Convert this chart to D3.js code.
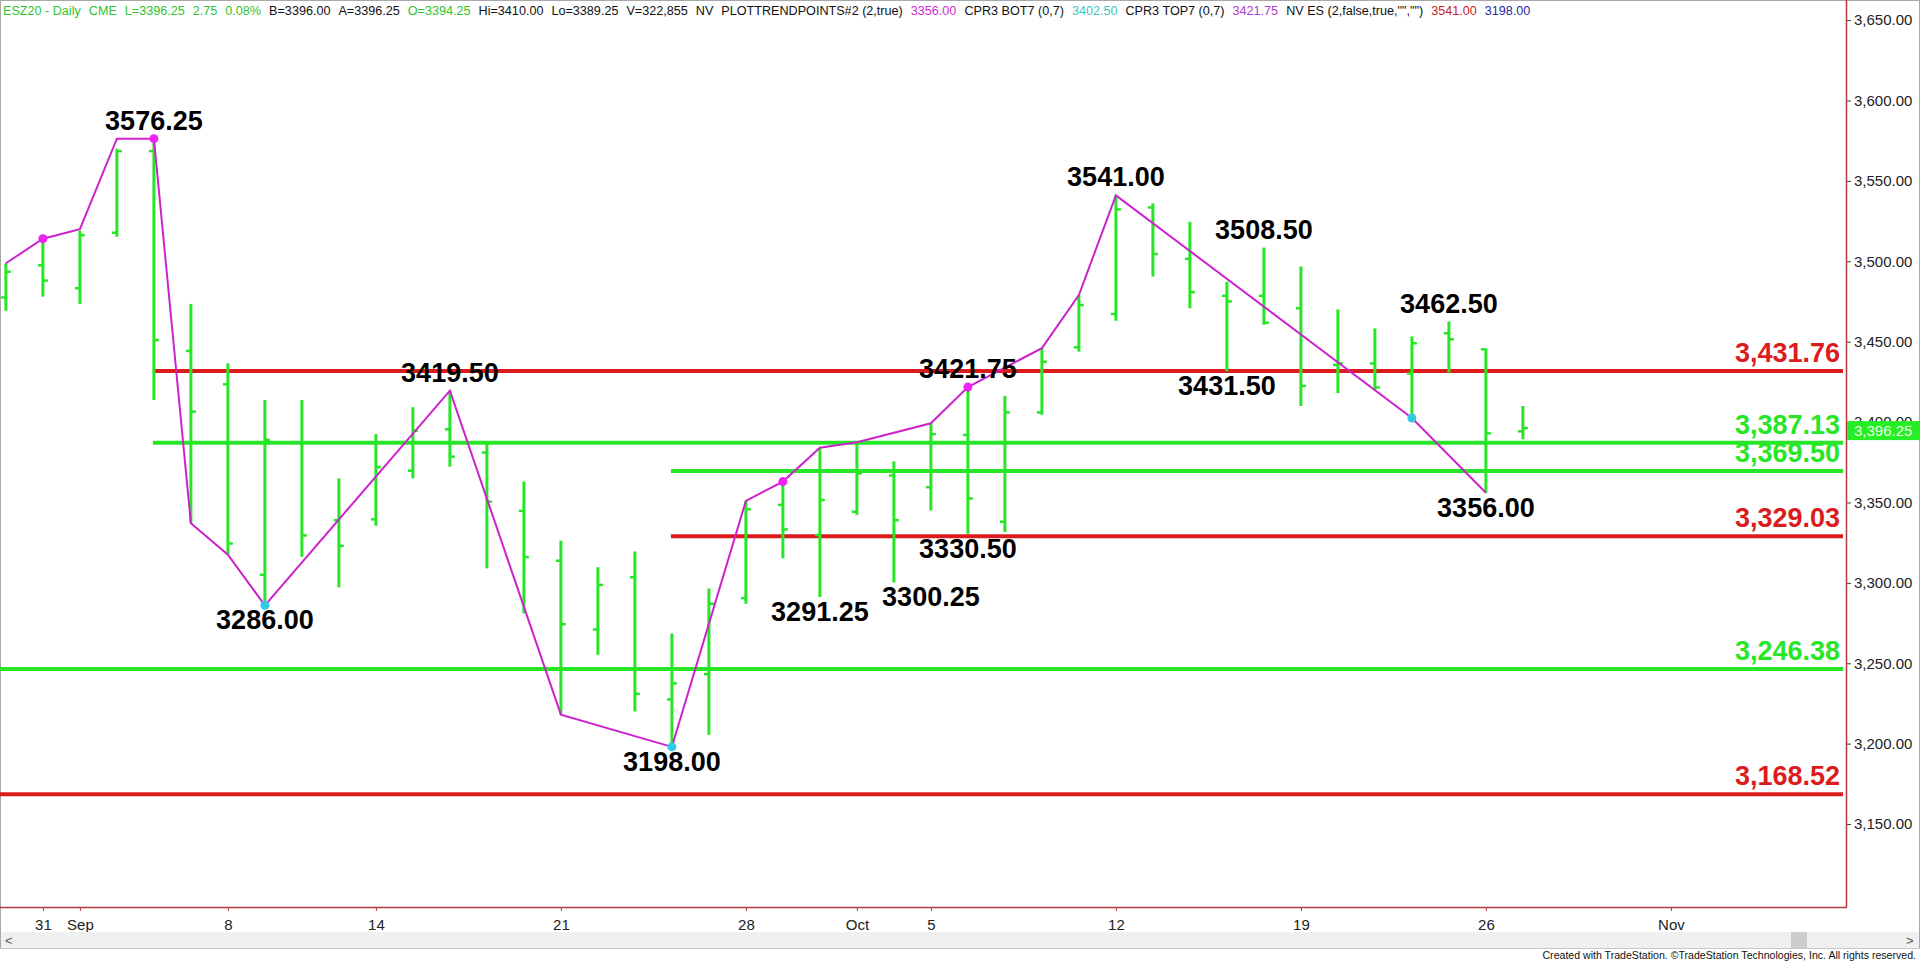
<!DOCTYPE html>
<html><head><meta charset="utf-8">
<script src="https://cdn.jsdelivr.net/npm/d3@7"></script>
<style>
html,body{margin:0;padding:0;background:#fff;overflow:hidden}
svg{display:block;font-family:"Liberation Sans",Arial,sans-serif}
</style></head><body>
<svg id="chart" width="1920" height="963"></svg>
<script>
// ---------------- DATA ----------------
const tradingDays = ["Aug 28","Aug 31","Sep 1","Sep 2","Sep 3","Sep 4","Sep 8","Sep 9","Sep 10","Sep 11",
  "Sep 14","Sep 15","Sep 16","Sep 17","Sep 18","Sep 21","Sep 22","Sep 23","Sep 24","Sep 25",
  "Sep 28","Sep 29","Sep 30","Oct 1","Oct 2","Oct 5","Oct 6","Oct 7","Oct 8","Oct 9",
  "Oct 12","Oct 13","Oct 14","Oct 15","Oct 16","Oct 19","Oct 20","Oct 21","Oct 22","Oct 23",
  "Oct 26","Oct 27","Oct 28","Oct 29","Oct 30","Nov 2","Nov 3","Nov 4","Nov 5","Nov 6"];
const opens  = [3477.5,3497.5,3483.25,3517.75,3568.5,3444.25,3423.5,3305,3387.25,3339,
  3339.5,3369.75,3395.5,3381,3344.75,3313.75,3271,3303.5,3227.5,3243.25,
  3290.5,3348.5,3329.75,3344.25,3366.75,3359.5,3392,3338,3406,3446.5,
  3467.25,3533.5,3501.5,3478.5,3478.5,3470.75,3435.5,3436.5,3430.25,3455.25,
  3445.25,3394.25];
const highs  = [3498.75,3513,3519,3570,3576.25,3473.5,3436.5,3413.75,3413.75,3365,
  3392.5,3409.25,3419.5,3387.25,3363,3326.25,3309.75,3319.5,3268.5,3296.5,
  3351,3363,3383.75,3387.25,3375.5,3399.25,3421.75,3416.25,3446,3479,
  3541,3536,3524.5,3487.25,3508.5,3496.75,3470,3458.25,3453.25,3462.5,
  3445.75,3410];
const lows   = [3469.25,3478,3473.5,3515.25,3413.75,3337,3317.5,3286,3316.25,3297.25,
  3335.5,3365,3372.25,3309,3281,3218,3255.25,3220,3198,3205.5,
  3287,3315.25,3291.25,3342.25,3300.25,3345,3330.5,3331.5,3404.5,3443.75,
  3463,3490.5,3470.75,3431.5,3460.5,3410,3418,3420,3402.5,3430.75,
  3356,3389.25];
const closes = [3493.5,3488,3516.25,3568.5,3451,3406.5,3324.5,3389,3329.5,3323,
  3372,3394.5,3378.5,3350.5,3316,3274.25,3298.75,3231,3237.5,3287,
  3345.75,3333.25,3351.5,3368,3339,3392.5,3352.5,3406,3437.5,3472.75,
  3532.25,3504.5,3480.75,3475,3461.75,3422.5,3436.5,3421.5,3449,3451.5,
  3393,3396.25];

// zig-zag trend line
const trendDates  = ["Aug 28","Aug 31","Sep 1","Sep 2","Sep 3","Sep 4","Sep 8","Sep 9","Sep 16","Sep 21",
  "Sep 24","Sep 28","Sep 29","Sep 30","Oct 1","Oct 5","Oct 6","Oct 8","Oct 9","Oct 12","Oct 22","Oct 26"];
const trendValues = [3498.75,3514,3520,3576.25,3576.25,3337,3317.5,3286,3419.5,3218,
  3198,3351,3363,3384,3387.5,3399.25,3421.75,3446,3479,3541,3402.5,3356];

const topPivotDates  = ["Aug 31","Sep 3","Sep 29","Oct 6"];
const topPivotValues = [3514,3576.25,3363,3421.75];
const botPivotDates  = ["Sep 9","Sep 24","Oct 22"];
const botPivotValues = [3286,3198,3402.5];

// swing labels
const labelDates  = ["Sep 3","Sep 9","Sep 16","Sep 24","Sep 30","Oct 5","Oct 6","Oct 6","Oct 12","Oct 15","Oct 16","Oct 23","Oct 26"];
const labelValues = [3576.25,3286,3419.5,3198,3291.25,3300.25,3421.75,3330.5,3541,3431.5,3508.5,3462.5,3356];
const labelSides  = ["top","bottom","top","bottom","bottom","bottom","top","bottom","top","bottom","top","top","bottom"];

// horizontal pivot levels
const levelValues = [3431.76,3387.13,3369.50,3329.03,3246.38,3168.52];
const levelKinds  = ["res","sup","sup","res","sup","res"];
const levelStarts = ["Sep 3","Sep 3","Sep 24","Sep 24",null,null];

// axis ticks
const yTicks = [3150,3200,3250,3300,3350,3400,3450,3500,3550,3600,3650];
const xTickDates  = ["Aug 31","Sep 1","Sep 8","Sep 14","Sep 21","Sep 28","Oct 1","Oct 5","Oct 12","Oct 19","Oct 26","Nov 2"];
const xTickLabels = ["31","Sep","8","14","21","28","Oct","5","12","19","26","Nov"];

const lastPrice = 3396.25;

// header
const headerTexts = ["ESZ20 - Daily","CME","L=3396.25","2.75","0.08%","B=3396.00","A=3396.25","O=3394.25",
  "Hi=3410.00","Lo=3389.25","V=322,855","NV","PLOTTRENDPOINTS#2 (2,true)","3356.00","CPR3 BOT7 (0,7)",
  "3402.50","CPR3 TOP7 (0,7)","3421.75","NV ES (2,false,true,\"\",\"\")","3541.00","3198.00"];
const headerKinds = ["g","g","g","g","g","k","k","g","k","k","k","k","k","m","k","c","k","p","k","r","b"];
const footerText = "Created with TradeStation. ©TradeStation Technologies, Inc. All rights reserved.";

// ---------------- LAYOUT / STYLE ----------------
const GREEN="#27e627", RED="#dc1c1c", MAG="#cc22cc", CYAN="#33c8e8", AXIS="#b33a3a";
const headerColors = {g:"#2fc42f",k:"#111",m:"#d62ad6",c:"#3cc6c6",p:"#b03cd0",r:"#c81e1e",b:"#1e2aa0"};

const svg = d3.select("#chart");
const plotRight = 1846, plotBottom = 907;

const x = d3.scalePoint().domain(tradingDays).range([5.9, 5.9 + 37*(tradingDays.length-1)]);
const y = d3.scaleLinear().domain([3098.4, 3662.5]).range([plotBottom, 0]);

svg.append("defs").append("clipPath").attr("id","clip")
  .append("rect").attr("x",0).attr("y",0).attr("width",plotRight-3).attr("height",plotBottom);

// frame
svg.append("rect").attr("x",0.5).attr("y",0.5).attr("width",1919).attr("height",948)
  .attr("fill","none").attr("stroke","#a8a8a8");

const g = svg.append("g").attr("clip-path","url(#clip)");

// level lines
levelValues.forEach((v,i)=>{
  const x0 = levelStarts[i] ? x(levelStarts[i]) - 1 : 0;
  g.append("line").attr("x1",x0).attr("x2",plotRight-3)
    .attr("y1",y(v)).attr("y2",y(v))
    .attr("stroke", levelKinds[i]==="res"?RED:GREEN).attr("stroke-width",4);
});

// OHLC bars
const idx = d3.range(opens.length);
const bars = g.append("g").selectAll("g").data(idx).join("g");
bars.append("line")
  .attr("x1",i=>x(tradingDays[i])).attr("x2",i=>x(tradingDays[i]))
  .attr("y1",i=>y(highs[i])).attr("y2",i=>y(lows[i]))
  .attr("stroke",GREEN).attr("stroke-width",3);
bars.append("line")
  .attr("x1",i=>x(tradingDays[i])-5).attr("x2",i=>x(tradingDays[i]))
  .attr("y1",i=>y(opens[i])).attr("y2",i=>y(opens[i]))
  .attr("stroke",GREEN).attr("stroke-width",2.5);
bars.append("line")
  .attr("x1",i=>x(tradingDays[i])).attr("x2",i=>x(tradingDays[i])+5)
  .attr("y1",i=>y(closes[i])).attr("y2",i=>y(closes[i]))
  .attr("stroke",GREEN).attr("stroke-width",2.5);

// trend line
const line = d3.line().x(d=>x(d[0])).y(d=>y(d[1]));
g.append("path").datum(trendDates.map((d,i)=>[d,trendValues[i]]))
  .attr("d",line).attr("fill","none").attr("stroke",MAG).attr("stroke-width",2);

g.selectAll("circle.top").data(topPivotDates).join("circle")
  .attr("cx",d=>x(d)).attr("cy",(d,i)=>y(topPivotValues[i])).attr("r",4.5).attr("fill","#ee22ee");
g.selectAll("circle.bot").data(botPivotDates).join("circle")
  .attr("cx",d=>x(d)).attr("cy",(d,i)=>y(botPivotValues[i])).attr("r",4.5).attr("fill",CYAN);

// swing labels
svg.append("g").selectAll("text").data(labelDates).join("text")
  .attr("x",d=>x(d)).attr("y",(d,i)=> labelSides[i]==="top" ? y(labelValues[i]) - 9 : y(labelValues[i]) + 24)
  .attr("text-anchor","middle").attr("font-weight","bold").attr("font-size",27).attr("fill","#000")
  .text((d,i)=>d3.format(".2f")(labelValues[i]));

// level labels
svg.append("g").selectAll("text").data(levelValues).join("text")
  .attr("x",1840).attr("y",d=>y(d)-9).attr("text-anchor","end")
  .attr("font-weight","bold").attr("font-size",27)
  .attr("fill",(d,i)=> levelKinds[i]==="res"?RED:GREEN)
  .text(d=>d3.format(",.2f")(d));

// right axis
const yAxis = svg.append("g").attr("transform",`translate(${plotRight},0)`)
  .call(d3.axisRight(y).tickValues(yTicks).tickFormat(d3.format(",.2f")).tickSize(5).tickPadding(3));
yAxis.select(".domain").remove();
yAxis.selectAll(".tick line").attr("stroke","#444");
yAxis.selectAll(".tick text").attr("font-size",15).attr("fill","#222").attr("font-family","Liberation Sans, Arial, sans-serif");
svg.append("line").attr("x1",plotRight+0.5).attr("x2",plotRight+0.5).attr("y1",0).attr("y2",plotBottom)
  .attr("stroke",AXIS).attr("stroke-width",1.5);

// last price marker
svg.append("rect").attr("x",plotRight+1).attr("y",y(lastPrice)-7).attr("width",73).attr("height",19).attr("fill","#25ee25");
svg.append("text").attr("x",plotRight+8).attr("y",y(lastPrice)+8).attr("font-size",15).attr("fill","#eaffea")
  .text(d3.format(",.2f")(lastPrice));

// bottom axis
const xAxis = svg.append("g").attr("transform",`translate(0,${plotBottom})`)
  .call(d3.axisBottom(x).tickValues(xTickDates).tickFormat((d,i)=>xTickLabels[i]).tickSize(4).tickPadding(8));
xAxis.select(".domain").remove();
xAxis.selectAll(".tick line").attr("stroke",AXIS);
xAxis.selectAll(".tick text").attr("font-size",15).attr("fill","#222").attr("font-family","Liberation Sans, Arial, sans-serif");
svg.append("line").attr("x1",0).attr("x2",plotRight+1).attr("y1",plotBottom+0.5).attr("y2",plotBottom+0.5)
  .attr("stroke",AXIS).attr("stroke-width",1.5);

// header: pieces laid out in sequence with a uniform font size fitted to the header width
const hdrStart = 3, hdrEnd = 1531, hdrGap = 8;
const hdr = svg.append("g");
const pieces = headerTexts.map((t,i)=> hdr.append("text").attr("y",15).attr("font-size",10)
  .attr("fill",headerColors[headerKinds[i]]).text(t));
const w10 = pieces.reduce((s,p)=> s + p.node().getComputedTextLength(), 0);
const hdrSize = Math.min(16, 10 * (hdrEnd - hdrStart - hdrGap*(pieces.length-1)) / w10);
let cx = hdrStart;
pieces.forEach(p=>{
  p.attr("font-size",hdrSize).attr("x",cx);
  cx += p.node().getComputedTextLength() + hdrGap;
});

// scrollbar + footer
svg.append("rect").attr("x",1).attr("y",932).attr("width",1918).attr("height",16).attr("fill","#f0f0f0");
svg.append("line").attr("x1",0).attr("x2",1920).attr("y1",948.5).attr("y2",948.5).attr("stroke","#c8c8c8");
svg.append("rect").attr("x",1791).attr("y",932).attr("width",16).attr("height",16).attr("fill","#cdcdcd");
svg.append("text").attr("x",5).attr("y",945).attr("font-size",13).attr("fill","#555").text("<");
svg.append("text").attr("x",1906).attr("y",945).attr("font-size",13).attr("fill","#555").text(">");
const ft = svg.append("text").attr("x",1916).attr("y",959).attr("text-anchor","end")
  .attr("fill","#111").attr("font-size",13).text(footerText);
const fw = ft.node().getComputedTextLength();
if (fw > 374) ft.attr("font-size", 13*374/fw);
</script>
</body></html>
